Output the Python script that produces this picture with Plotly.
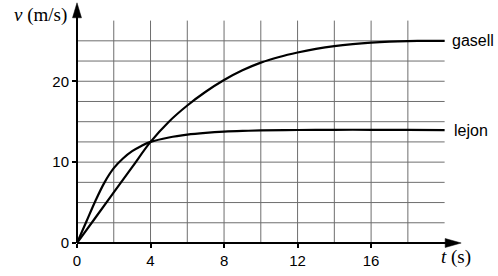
import plotly.graph_objects as go

# Data
t_gasell = [0, 1, 2, 3, 4, 5, 6, 7, 8, 9, 10, 11, 12, 13, 14, 15, 16, 17, 18, 19, 20]
v_gasell = [0, 3.12, 6.25, 9.38, 12.5, 15.0, 17.0, 18.7, 20.15, 21.35, 22.3, 23.0, 23.55,
            24.0, 24.35, 24.6, 24.78, 24.9, 24.97, 25.0, 25.0]

t_lejon = [0, 0.5, 1, 1.5, 2, 2.5, 3, 3.5, 4, 5, 6, 7, 8, 9, 10, 12, 14, 16, 18, 20]
v_lejon = [0, 2.6, 5.2, 7.5, 9.25, 10.45, 11.35, 12.0, 12.5, 13.05, 13.4, 13.62, 13.77,
           13.86, 13.92, 13.97, 14.0, 14.0, 13.98, 13.95]

x_ticks = [0, 4, 8, 12, 16]
y_ticks = [0, 10, 20]
x_grid = [2, 4, 6, 8, 10, 12, 14, 16, 18]
y_grid = [2.5, 5, 7.5, 10, 12.5, 15, 17.5, 20, 22.5, 25]
x_grid_end = 20
y_grid_end = 27.5
x_range = [0, 21]
y_range = [0, 29.8]
x_arrow_tip = 20.9
y_arrow_tip = 29.7

fig = go.Figure()
for tx, vy in ((t_gasell, v_gasell), (t_lejon, v_lejon)):
    fig.add_trace(go.Scatter(x=tx, y=vy, mode="lines",
                             line=dict(color="black", width=2.2, shape="spline", smoothing=1),
                             hoverinfo="skip", showlegend=False))

shapes = []
grid_col = "#6e6e6e"
for gx in x_grid:
    shapes.append(dict(type="line", xref="x", yref="y", x0=gx, x1=gx, y0=0, y1=y_grid_end,
                       line=dict(color=grid_col, width=1), layer="below"))
for gy in y_grid:
    shapes.append(dict(type="line", xref="x", yref="y", x0=0, x1=x_grid_end, y0=gy, y1=gy,
                       line=dict(color=grid_col, width=1), layer="below"))

# axes in paper coordinates so they are not clipped at the plot edge
xtip = (x_arrow_tip - x_range[0]) / (x_range[1] - x_range[0])
ytip = (y_arrow_tip - y_range[0]) / (y_range[1] - y_range[0])
shapes.append(dict(type="line", xref="paper", yref="paper", x0=0, x1=xtip - 0.03, y0=0, y1=0,
                   line=dict(color="black", width=2)))
shapes.append(dict(type="line", xref="paper", yref="paper", x0=0, x1=0, y0=0, y1=ytip - 0.04,
                   line=dict(color="black", width=2)))
shapes.append(dict(type="path", xref="paper", yref="paper", xsizemode="pixel", ysizemode="pixel",
                   xanchor=xtip, yanchor=0,
                   path="M 0 0 L -16 4.5 L -16 -4.5 Z",
                   fillcolor="black", line=dict(color="black", width=0.5)))
shapes.append(dict(type="path", xref="paper", yref="paper", xsizemode="pixel", ysizemode="pixel",
                   xanchor=0, yanchor=ytip,
                   path="M 0 0 L -4.5 -15 L 4.5 -15 Z",
                   fillcolor="black", line=dict(color="black", width=0.5)))

annotations = [
    dict(x=t_gasell[-1], y=v_gasell[-1], xref="x", yref="y", text="gasell", showarrow=False,
         xanchor="left", yanchor="middle", xshift=5, yshift=0,
         font=dict(family="Liberation Sans", size=16, color="black")),
    dict(x=t_lejon[-1], y=v_lejon[-1], xref="x", yref="y", text="lejon", showarrow=False,
         xanchor="left", yanchor="middle", xshift=7, yshift=0,
         font=dict(family="Liberation Sans", size=16, color="black")),
    dict(x=(456 - 77) / 386, y=-(257 - 243) / 241, xref="paper", yref="paper",
         text="<i>t</i> (s)", showarrow=False, xanchor="center", yanchor="middle",
         font=dict(family="Liberation Serif", size=19, color="black")),
    dict(x=(69 - 77) / 386, y=(243 - 15) / 241, xref="paper", yref="paper",
         text="<i>v</i> (m/s)", showarrow=False, xanchor="right", yanchor="middle",
         font=dict(family="Liberation Serif", size=19, color="black")),
]

fig.update_layout(
    width=498, height=276,
    margin=dict(l=77, r=35, t=2, b=33),
    paper_bgcolor="white", plot_bgcolor="white",
    shapes=shapes, annotations=annotations,
    xaxis=dict(range=x_range, tickvals=x_ticks, ticks="outside", ticklen=4, tickwidth=1.5,
               tickcolor="black", showgrid=False, zeroline=False, showline=False,
               tickfont=dict(family="Liberation Sans", size=15, color="black")),
    yaxis=dict(range=y_range, tickvals=y_ticks, ticks="outside", ticklen=4, tickwidth=1.5,
               tickcolor="black", showgrid=False, zeroline=False, showline=False,
               tickfont=dict(family="Liberation Sans", size=15, color="black")),
)

fig.write_html("out.html")
